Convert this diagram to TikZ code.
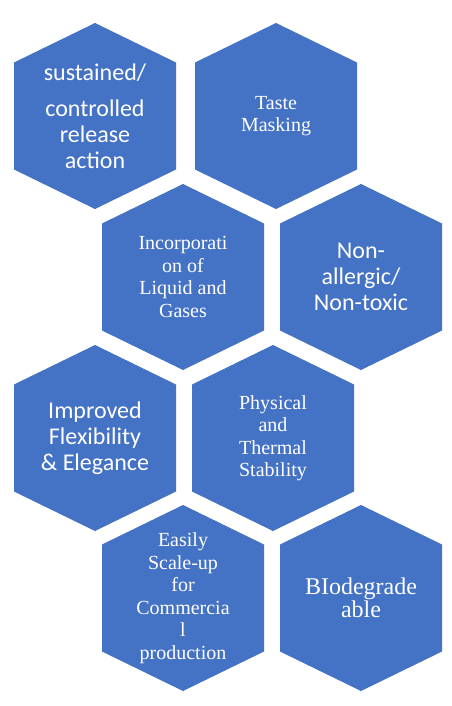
\documentclass[tikz,border=0pt]{standalone}
\usepackage{fontspec}
\setmainfont{Liberation Serif}
\newfontfamily\calibri{Carlito}
\usetikzlibrary{backgrounds}
\definecolor{hexblue}{HTML}{4472C4}
\tikzset{
  hex_text/.style = {align=center, inner sep=0pt, text=white},
  serif_text/.style = {hex_text, font=\fontsize{20}{22.5}\selectfont},% texte Times
  sans_text/.style = {hex_text, font=\calibri\fontsize{24}{26}\selectfont},% texte Calibri
  hex_fill/.style = {fill=hexblue}% hexagone bleu
}
\begin{document}
\begin{tikzpicture}[x=1pt, y=-1pt]
  \useasboundingbox (0,0) rectangle (451,706);
  \node [sans_text] (sustained) at (95,116) {sustained/\\[10pt]controlled\\release\\action};
  \node [serif_text] (taste) at (276,116) {Taste\\Masking};
  \node [serif_text] (incorp) at (183,277) {Incorporati\\on of\\Liquid and\\Gases};
  \node [sans_text] (nontoxic) at (361,277) {Non-\\allergic/\\Non-toxic};
  \node [sans_text] (improved) at (95,438) {Improved\\Flexibility\\\& Elegance};
  \node [serif_text] (physical) at (273,438) {Physical\\and\\Thermal\\Stability};
  \node [serif_text] (scaleup) at (183,598) {Easily\\Scale-up\\for\\Commercia\\l\\production};
  \node [serif_text, font=\fontsize{24}{23.3}\selectfont] (biodeg) at (361,598) {BIodegrade\\able};
  \begin{scope}[on background layer]
    \foreach \n in {sustained, taste, incorp, nontoxic, improved, physical, scaleup, biodeg}
      \fill [hex_fill] ([yshift=93pt]\n.center) -- ([shift={(81pt,53.5pt)}]\n.center)
        -- ([shift={(81pt,-53.5pt)}]\n.center) -- ([yshift=-93pt]\n.center)
        -- ([shift={(-81pt,-53.5pt)}]\n.center) -- ([shift={(-81pt,53.5pt)}]\n.center) -- cycle;
  \end{scope}
\end{tikzpicture}
\end{document}
